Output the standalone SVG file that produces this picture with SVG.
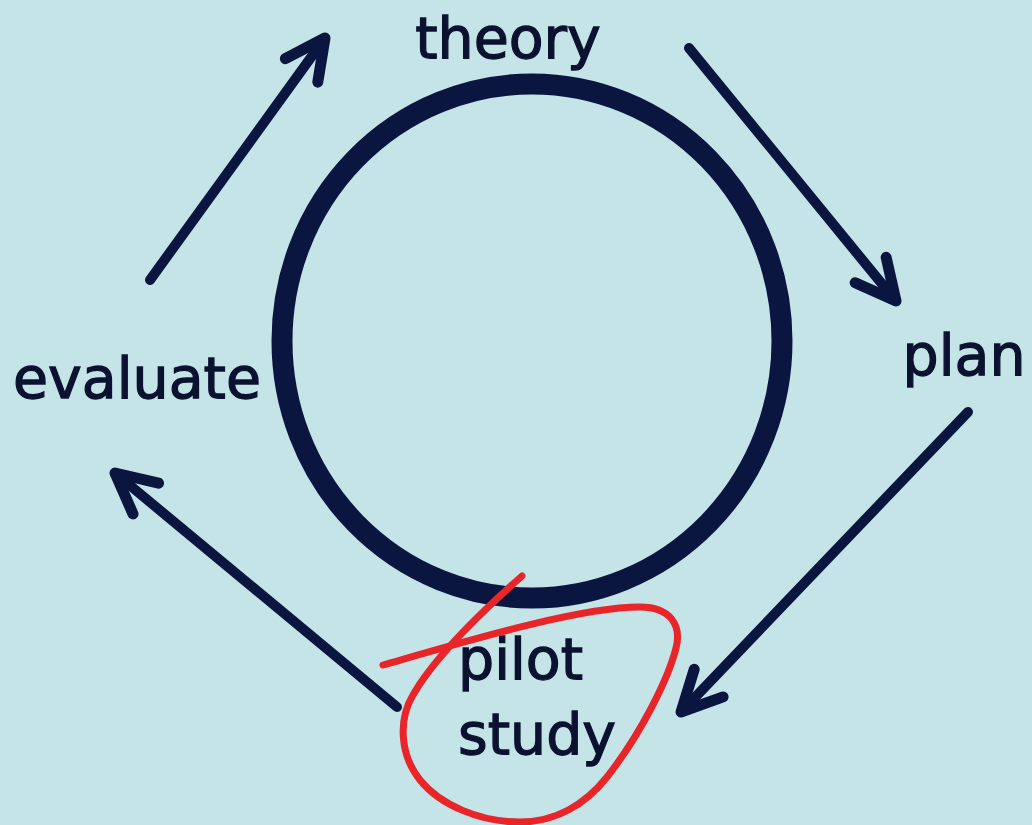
<svg xmlns="http://www.w3.org/2000/svg" width="1032" height="825" viewBox="0 0 1032 825">
<style>
.lbl{font-family:"DejaVu Sans","Liberation Sans",sans-serif;font-size:57px;fill:#0b1230;stroke:#0b1230;stroke-width:1.3px}
.arr{fill:none;stroke:#0a1640;stroke-width:10;stroke-linecap:round;stroke-linejoin:round}
</style>
<defs>
<marker id="head" markerUnits="userSpaceOnUse" orient="auto" refX="0" refY="0" markerWidth="60" markerHeight="60" overflow="visible">
<path d="M-40,-20 L0,0 L-40,20" fill="none" stroke="#0a1640" stroke-width="11" stroke-linecap="round" stroke-linejoin="round"/>
</marker>
</defs>
<rect width="1032" height="825" fill="#c5e4e8"/>
<g id="cycle">
<ellipse cx="532" cy="341" rx="250" ry="257" fill="none" stroke="#0a1640" stroke-width="21"/>
</g>
<g id="theory"><text class="lbl" x="508" y="58" text-anchor="middle">theory</text></g>
<g id="plan"><text class="lbl" x="964" y="375" text-anchor="middle">plan</text></g>
<g id="evaluate"><text class="lbl" x="137" y="398" text-anchor="middle">evaluate</text></g>
<g id="pilot-study">
<text class="lbl" x="458" y="679">pilot</text>
<text class="lbl" x="458" y="754">study</text>
</g>
<g id="connectors">
<path class="arr" d="M150,280 L325,38" marker-end="url(#head)"/>
<path class="arr" d="M689,48 L896,301" marker-end="url(#head)"/>
<path class="arr" d="M968,412 L681,712" marker-end="url(#head)"/>
<path class="arr" d="M397,707 L115,473" marker-end="url(#head)"/>
</g>
<g id="annotation">
<path d="M383,665 C470,640 580,607 640,607 C670,607 682,625 676,648 C668,680 640,735 607,777 C585,805 555,822 520,822 C480,822 440,805 420,780 C400,755 398,720 413,695 C430,665 470,622 522,576" fill="none" stroke="#e8262a" stroke-width="7" stroke-linecap="round" stroke-linejoin="round"/>
</g>
</svg>
